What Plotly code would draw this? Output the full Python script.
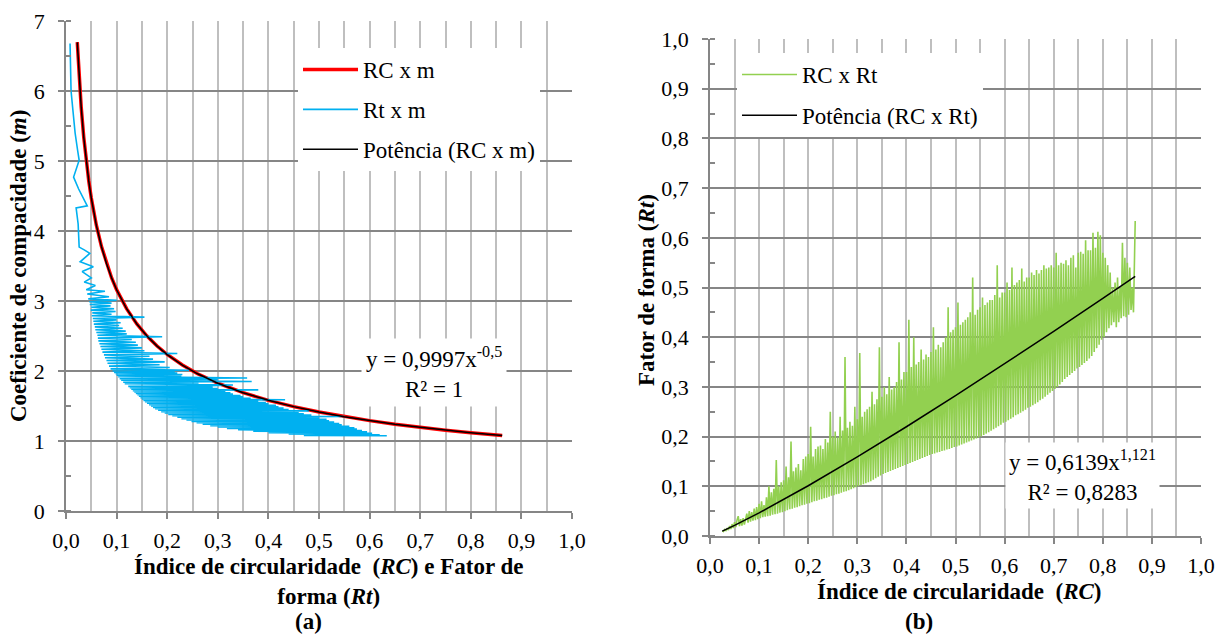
import plotly.graph_objects as go

FONT = "Liberation Serif, Times New Roman, Tinos, DejaVu Serif, serif"

# ---------------- Chart (a): m versus RC and Rt ----------------
rc_fit = [0.0223, 0.025, 0.03, 0.035, 0.04, 0.045, 0.05, 0.06, 0.07, 0.08, 0.09, 0.10,
          0.12, 0.14, 0.16, 0.18, 0.20, 0.23, 0.26, 0.30, 0.35, 0.40, 0.45, 0.50,
          0.55, 0.60, 0.65, 0.70, 0.75, 0.80, 0.862]
m_rc = [6.697, 6.325, 5.774, 5.345, 5.000, 4.714, 4.472, 4.082, 3.780, 3.536, 3.333, 3.162,
        2.887, 2.673, 2.500, 2.357, 2.236, 2.085, 1.961, 1.826, 1.690, 1.581, 1.491, 1.414,
        1.348, 1.291, 1.240, 1.195, 1.155, 1.118, 1.077]
m_pow = [6.695, 6.323, 5.772, 5.343, 4.998, 4.713, 4.471, 4.081, 3.779, 3.535, 3.332, 3.161,
         2.886, 2.672, 2.499, 2.356, 2.235, 2.084, 1.960, 1.825, 1.690, 1.581, 1.491, 1.414,
         1.348, 1.291, 1.240, 1.195, 1.155, 1.118, 1.077]

m_a = [6.68, 6.30, 6.00, 5.70, 5.40, 5.15, 5.01, 4.77, 4.60, 4.36, 4.33, 4.10, 3.77, 3.73,
       3.68, 3.56, 3.49, 3.42, 3.33, 3.27, 3.22, 3.16, 3.14, 3.10, 3.06, 3.03,
       3.01, 2.99, 2.97, 2.95, 2.93, 2.91, 2.89, 2.87, 2.85, 2.83, 2.81, 2.79, 2.77, 2.75,
       2.73, 2.71, 2.69, 2.67, 2.65, 2.63, 2.61, 2.59, 2.57, 2.55, 2.53, 2.51, 2.49, 2.47,
       2.45, 2.43, 2.41, 2.39, 2.37, 2.35, 2.33, 2.31, 2.29, 2.27, 2.25, 2.23, 2.21, 2.19,
       2.17, 2.15, 2.13, 2.11, 2.09, 2.07, 2.05, 2.03,
       2.01, 2.00, 1.99, 1.98, 1.97, 1.96, 1.95, 1.94, 1.93, 1.92, 1.91, 1.90, 1.89, 1.88,
       1.87, 1.86, 1.85, 1.84, 1.83, 1.82, 1.81, 1.80, 1.79, 1.78, 1.77, 1.76, 1.75, 1.74,
       1.73, 1.72, 1.71, 1.70, 1.69, 1.68, 1.67, 1.66, 1.65, 1.64, 1.63, 1.62, 1.61, 1.60,
       1.59, 1.58, 1.57, 1.56, 1.55, 1.54, 1.53, 1.52, 1.51, 1.50, 1.49, 1.48, 1.47, 1.46,
       1.45, 1.44, 1.43, 1.42, 1.41, 1.40, 1.39, 1.38, 1.37, 1.36, 1.35, 1.34, 1.33, 1.32,
       1.31, 1.30, 1.29, 1.28, 1.27, 1.26, 1.25, 1.24, 1.23, 1.22, 1.21, 1.20, 1.19, 1.18,
       1.17, 1.16, 1.15, 1.14, 1.13, 1.12, 1.11, 1.10, 1.09, 1.08, 1.075]
rt_a = [0.008, 0.009, 0.010, 0.014, 0.018, 0.023, 0.026, 0.015, 0.025, 0.042, 0.020, 0.024, 0.026, 0.036,
        0.047, 0.028, 0.054, 0.032, 0.050, 0.036, 0.058, 0.040, 0.077, 0.042, 0.085, 0.044,
        0.100, 0.046, 0.090, 0.047, 0.088, 0.050, 0.095, 0.049, 0.098, 0.052, 0.090, 0.051, 0.155, 0.053,
        0.100, 0.054, 0.108, 0.055, 0.105, 0.057, 0.112, 0.058, 0.118, 0.060, 0.120, 0.062, 0.190, 0.063,
        0.130, 0.064, 0.138, 0.066, 0.142, 0.068, 0.150, 0.070, 0.155, 0.072, 0.220, 0.075, 0.165, 0.077,
        0.172, 0.080, 0.195, 0.082, 0.185, 0.085, 0.205, 0.088,
        0.243, 0.092, 0.215, 0.095, 0.220, 0.098, 0.230, 0.100, 0.228, 0.103, 0.240, 0.358, 0.106, 0.300,
        0.109, 0.255, 0.367, 0.113, 0.262, 0.116, 0.275, 0.330, 0.285, 0.123, 0.290, 0.126, 0.300, 0.129,
        0.380, 0.132, 0.315, 0.135, 0.325, 0.138, 0.330, 0.141, 0.345, 0.144, 0.350, 0.147, 0.365, 0.150,
        0.433, 0.153, 0.380, 0.156, 0.395, 0.160, 0.400, 0.164, 0.415, 0.168, 0.420, 0.172, 0.430, 0.176,
        0.440, 0.182, 0.480, 0.188, 0.460, 0.195, 0.470, 0.202, 0.485, 0.210, 0.550, 0.220, 0.500, 0.228,
        0.515, 0.238, 0.520, 0.248, 0.530, 0.258, 0.540, 0.270, 0.545, 0.285, 0.560, 0.300, 0.570, 0.318,
        0.575, 0.340, 0.585, 0.370, 0.595, 0.400, 0.605, 0.440, 0.620, 0.470, 0.634]

# ---------------- Chart (b): Rt versus RC ----------------
rc_b = [0.0250, 0.0275, 0.0300, 0.0325, 0.0350, 0.0375, 0.0400, 0.0425, 0.0450, 0.0475,
        0.0500, 0.0525, 0.0550, 0.0575, 0.0600, 0.0625, 0.0650, 0.0675, 0.0700, 0.0725,
        0.0750, 0.0775, 0.0800, 0.0825, 0.0850, 0.0875, 0.0900, 0.0925, 0.0950, 0.0975,
        0.1000, 0.1025, 0.1050, 0.1075, 0.1100, 0.1125, 0.1150, 0.1175, 0.1200, 0.1225,
        0.1250, 0.1275, 0.1300, 0.1325, 0.1350, 0.1375, 0.1400, 0.1425, 0.1450, 0.1475,
        0.1500, 0.1525, 0.1550, 0.1575, 0.1600, 0.1625, 0.1650, 0.1675, 0.1700, 0.1725,
        0.1750, 0.1775, 0.1800, 0.1825, 0.1850, 0.1875, 0.1900, 0.1925, 0.1950, 0.1975,
        0.2000, 0.2025, 0.2050, 0.2075, 0.2100, 0.2125, 0.2150, 0.2175, 0.2200, 0.2225,
        0.2250, 0.2275, 0.2300, 0.2325, 0.2350, 0.2375, 0.2400, 0.2425, 0.2450, 0.2475,
        0.2500, 0.2525, 0.2550, 0.2575, 0.2600, 0.2625, 0.2650, 0.2675, 0.2700, 0.2725,
        0.2750, 0.2775, 0.2800, 0.2825, 0.2850, 0.2875, 0.2900, 0.2925, 0.2950, 0.2975,
        0.3000, 0.3025, 0.3050, 0.3075, 0.3100, 0.3125, 0.3150, 0.3175, 0.3200, 0.3225,
        0.3250, 0.3275, 0.3300, 0.3325, 0.3350, 0.3375, 0.3400, 0.3425, 0.3450, 0.3475,
        0.3500, 0.3525, 0.3550, 0.3575, 0.3600, 0.3625, 0.3650, 0.3675, 0.3700, 0.3725,
        0.3750, 0.3775, 0.3800, 0.3825, 0.3850, 0.3875, 0.3900, 0.3925, 0.3950, 0.3975,
        0.4000, 0.4025, 0.4050, 0.4075, 0.4100, 0.4125, 0.4150, 0.4175, 0.4200, 0.4225,
        0.4250, 0.4275, 0.4300, 0.4325, 0.4350, 0.4375, 0.4400, 0.4425, 0.4450, 0.4475,
        0.4500, 0.4525, 0.4550, 0.4575, 0.4600, 0.4625, 0.4650, 0.4675, 0.4700, 0.4725,
        0.4750, 0.4775, 0.4800, 0.4825, 0.4850, 0.4875, 0.4900, 0.4925, 0.4950, 0.4975,
        0.5000, 0.5025, 0.5050, 0.5075, 0.5100, 0.5125, 0.5150, 0.5175, 0.5200, 0.5225,
        0.5250, 0.5275, 0.5300, 0.5325, 0.5350, 0.5375, 0.5400, 0.5425, 0.5450, 0.5475,
        0.5500, 0.5525, 0.5550, 0.5575, 0.5600, 0.5625, 0.5650, 0.5675, 0.5700, 0.5725,
        0.5750, 0.5775, 0.5800, 0.5825, 0.5850, 0.5875, 0.5900, 0.5925, 0.5950, 0.5975,
        0.6000, 0.6025, 0.6050, 0.6075, 0.6100, 0.6125, 0.6150, 0.6175, 0.6200, 0.6225,
        0.6250, 0.6275, 0.6300, 0.6325, 0.6350, 0.6375, 0.6400, 0.6425, 0.6450, 0.6475,
        0.6500, 0.6525, 0.6550, 0.6575, 0.6600, 0.6625, 0.6650, 0.6675, 0.6700, 0.6725,
        0.6750, 0.6775, 0.6800, 0.6825, 0.6850, 0.6875, 0.6900, 0.6925, 0.6950, 0.6975,
        0.7000, 0.7025, 0.7050, 0.7075, 0.7100, 0.7125, 0.7150, 0.7175, 0.7200, 0.7225,
        0.7250, 0.7275, 0.7300, 0.7325, 0.7350, 0.7375, 0.7400, 0.7425, 0.7450, 0.7475,
        0.7500, 0.7525, 0.7550, 0.7575, 0.7600, 0.7625, 0.7650, 0.7675, 0.7700, 0.7725,
        0.7750, 0.7775, 0.7800, 0.7825, 0.7850, 0.7875, 0.7900, 0.7925, 0.7950, 0.7975,
        0.8000, 0.8025, 0.8050, 0.8075, 0.8100, 0.8125, 0.8150, 0.8175, 0.8200, 0.8225,
        0.8250, 0.8275, 0.8300, 0.8325, 0.8350, 0.8375, 0.8400, 0.8425, 0.8450, 0.8475,
        0.8500, 0.8525, 0.8550, 0.8575, 0.8600, 0.8625, 0.8660]
rt_b = [0.010, 0.009, 0.013, 0.011, 0.016, 0.012, 0.020, 0.014, 0.024, 0.016,
        0.028, 0.018, 0.032, 0.040, 0.020, 0.034, 0.021, 0.036, 0.023, 0.038,
        0.045, 0.027, 0.050, 0.029, 0.048, 0.031, 0.055, 0.032, 0.058, 0.034,
        0.065, 0.036, 0.070, 0.038, 0.062, 0.039, 0.078, 0.040, 0.100, 0.041,
        0.088, 0.043, 0.095, 0.044, 0.153, 0.045, 0.100, 0.047, 0.108, 0.048,
        0.112, 0.050, 0.140, 0.052, 0.118, 0.054, 0.190, 0.055, 0.130, 0.057,
        0.138, 0.058, 0.145, 0.060, 0.132, 0.062, 0.155, 0.063, 0.160, 0.065,
        0.165, 0.066, 0.220, 0.068, 0.160, 0.070, 0.175, 0.071, 0.180, 0.073,
        0.182, 0.074, 0.175, 0.076, 0.195, 0.077, 0.188, 0.079, 0.250, 0.081,
        0.200, 0.082, 0.210, 0.084, 0.198, 0.085, 0.240, 0.087, 0.212, 0.089,
        0.360, 0.090, 0.218, 0.092, 0.230, 0.094, 0.222, 0.096, 0.260, 0.098,
        0.235, 0.100, 0.368, 0.102, 0.240, 0.104, 0.250, 0.106, 0.255, 0.108,
        0.260, 0.110, 0.290, 0.113, 0.265, 0.116, 0.275, 0.119, 0.380, 0.122,
        0.280, 0.125, 0.300, 0.127, 0.285, 0.129, 0.320, 0.131, 0.295, 0.133,
        0.300, 0.135, 0.310, 0.137, 0.390, 0.139, 0.315, 0.141, 0.330, 0.143,
        0.330, 0.145, 0.435, 0.147, 0.340, 0.149, 0.400, 0.151, 0.345, 0.153,
        0.350, 0.155, 0.375, 0.157, 0.355, 0.159, 0.365, 0.161, 0.360, 0.163,
        0.370, 0.165, 0.420, 0.166, 0.375, 0.168, 0.385, 0.169, 0.380, 0.171,
        0.390, 0.172, 0.400, 0.174, 0.460, 0.175, 0.410, 0.177, 0.415, 0.179,
        0.420, 0.180, 0.470, 0.182, 0.425, 0.184, 0.430, 0.186, 0.435, 0.188,
        0.440, 0.190, 0.450, 0.192, 0.520, 0.194, 0.445, 0.196, 0.455, 0.198,
        0.460, 0.200, 0.480, 0.203, 0.465, 0.206, 0.470, 0.209, 0.475, 0.212,
        0.475, 0.215, 0.485, 0.218, 0.545, 0.221, 0.480, 0.224, 0.490, 0.228,
        0.490, 0.230, 0.510, 0.233, 0.495, 0.236, 0.540, 0.239, 0.505, 0.243,
        0.510, 0.245, 0.515, 0.248, 0.538, 0.251, 0.512, 0.254, 0.520, 0.258,
        0.520, 0.260, 0.530, 0.263, 0.525, 0.266, 0.535, 0.269, 0.528, 0.273,
        0.535, 0.276, 0.545, 0.280, 0.538, 0.284, 0.540, 0.288, 0.545, 0.292,
        0.540, 0.296, 0.570, 0.300, 0.545, 0.305, 0.550, 0.310, 0.548, 0.316,
        0.555, 0.320, 0.545, 0.324, 0.560, 0.328, 0.565, 0.332, 0.540, 0.337,
        0.570, 0.340, 0.572, 0.344, 0.568, 0.348, 0.595, 0.352, 0.575, 0.357,
        0.575, 0.362, 0.610, 0.370, 0.580, 0.378, 0.612, 0.385, 0.605, 0.395,
        0.570, 0.400, 0.560, 0.410, 0.545, 0.418, 0.530, 0.424, 0.500, 0.430,
        0.510, 0.420, 0.520, 0.430, 0.500, 0.438, 0.590, 0.442, 0.560, 0.440,
        0.550, 0.445, 0.540, 0.455, 0.500, 0.450, 0.634]
rc_pow_b = [0.025, 0.05, 0.10, 0.15, 0.20, 0.30, 0.40, 0.50, 0.60, 0.70, 0.80, 0.866]
rt_pow_b = [0.0098, 0.0214, 0.0465, 0.0732, 0.1011, 0.1592, 0.2198, 0.2823, 0.3463, 0.4116, 0.4781, 0.5225]

W, H = 1224, 637
def px(x):
    return x / W
def py(y):
    return 1 - y / H

fig = go.Figure()
fig.add_trace(go.Scatter(x=rc_fit, y=m_rc, mode="lines", name="RC x m",
                         line=dict(color="#ff0000", width=3.5), xaxis="x", yaxis="y",
                         legend="legend", legendgroup="a1"))
fig.add_trace(go.Scatter(x=rt_a, y=m_a, mode="lines", name="Rt x m",
                         line=dict(color="#00b0f0", width=1.6), xaxis="x", yaxis="y",
                         legend="legend", legendgroup="a2"))
fig.add_trace(go.Scatter(x=rc_fit, y=m_pow, mode="lines", name="Potência (RC x m)",
                         line=dict(color="#000000", width=1.5), xaxis="x", yaxis="y",
                         legend="legend", legendgroup="a3"))
fig.add_trace(go.Scatter(x=rc_b, y=rt_b, mode="lines", name="RC x Rt",
                         line=dict(color="#92d050", width=1.6), xaxis="x2", yaxis="y2",
                         legend="legend2", legendgroup="b1"))
fig.add_trace(go.Scatter(x=rc_pow_b, y=rt_pow_b, mode="lines", name="Potência (RC x Rt)",
                         line=dict(color="#000000", width=1.5), xaxis="x2", yaxis="y2",
                         legend="legend2", legendgroup="b2"))

TXT = 23
tickfont = dict(family=FONT, size=22, color="black")
common = dict(showline=True, linecolor="#868686", linewidth=1.5, ticks="outside", ticklen=6,
              tickcolor="#868686", tickwidth=1.5, zeroline=False, tickfont=tickfont,
              fixedrange=True, automargin=False)
xcommon = dict(common, range=[0, 1], tick0=0, dtick=0.1, tickformat=".1f", showgrid=True,
               gridcolor="#bfbfbf", gridwidth=1.5, ticklabelstandoff=3,
               minor=dict(tick0=0, dtick=0.05, showgrid=True, gridcolor="#bfbfbf",
                          gridwidth=1.5, ticks=""))

fig.update_layout(
    width=W, height=H, margin=dict(l=0, r=0, t=0, b=0, autoexpand=False),
    paper_bgcolor="white", plot_bgcolor="white", separators=",.",
    font=dict(family=FONT, size=TXT, color="black"),
    xaxis=dict(xcommon, domain=[px(66), px(572)], anchor="y"),
    yaxis=dict(common, domain=[1 - 511 / H, 1 - 21 / H], anchor="x", range=[0, 7], tick0=0,
               dtick=1, showgrid=True, gridcolor="#868686", gridwidth=1.5,
               ticklabelstandoff=9,
               minor=dict(tick0=0, dtick=0.5, ticks="inside", ticklen=5,
                          tickcolor="#868686", tickwidth=1.5, showgrid=False)),
    xaxis2=dict(xcommon, domain=[px(710), px(1201)], anchor="y2"),
    yaxis2=dict(common, domain=[1 - 536 / H, 1 - 39 / H], anchor="x2", range=[0, 1], tick0=0,
                dtick=0.1, tickformat=".1f", showgrid=True, gridcolor="#868686", gridwidth=1.5,
                ticklabelstandoff=9,
                minor=dict(tick0=0, dtick=0.05, ticks="inside", ticklen=5,
                           tickcolor="#868686", tickwidth=1.5, showgrid=False)),
    legend=dict(x=px(298), y=py(48), xanchor="left", yanchor="top", bgcolor="white",
                borderwidth=0, font=dict(family=FONT, size=TXT, color="black"),
                itemwidth=55, tracegroupgap=7, traceorder="grouped"),
    legend2=dict(x=px(737), y=py(53), xanchor="left", yanchor="top", bgcolor="white",
                 borderwidth=0, font=dict(family=FONT, size=TXT, color="black"),
                 itemwidth=55, tracegroupgap=8, traceorder="grouped"),
    showlegend=True,
)

ann = [
    dict(x=px(434), y=py(372), text="y = 0,9997x<sup>-0,5</sup><br>R² = 1",
         bgcolor="white", borderpad=4),
    dict(x=px(1082), y=py(475), text="y = 0,6139x<sup>1,121</sup><br>R² = 0,8283",
         bgcolor="white", borderpad=3),
    dict(x=px(18), y=py(266), text="<b>Coeficiente de compacidade (<i>m</i>)</b>",
         textangle=-90),
    dict(x=px(646), y=py(290), text="<b>Fator de forma (<i>Rt</i>)</b>", textangle=-90),
    dict(x=px(328), y=py(581),
         text="<b>Índice de circularidade  (<i>RC</i>) e Fator de<br>forma (<i>Rt</i>)</b>"),
    dict(x=px(308), y=py(636), text="<b>(a)</b>", yanchor="bottom"),
    dict(x=px(959), y=py(591), text="<b>Índice de circularidade  (<i>RC</i>)</b>"),
    dict(x=px(919), y=py(636), text="<b>(b)</b>", yanchor="bottom"),
]
for a in ann:
    a.setdefault("yanchor", "middle")
    a.update(xref="paper", yref="paper", showarrow=False, xanchor="center",
             font=dict(family=FONT, size=TXT, color="black"))
fig.update_layout(annotations=ann)

fig.write_html("out.html")
